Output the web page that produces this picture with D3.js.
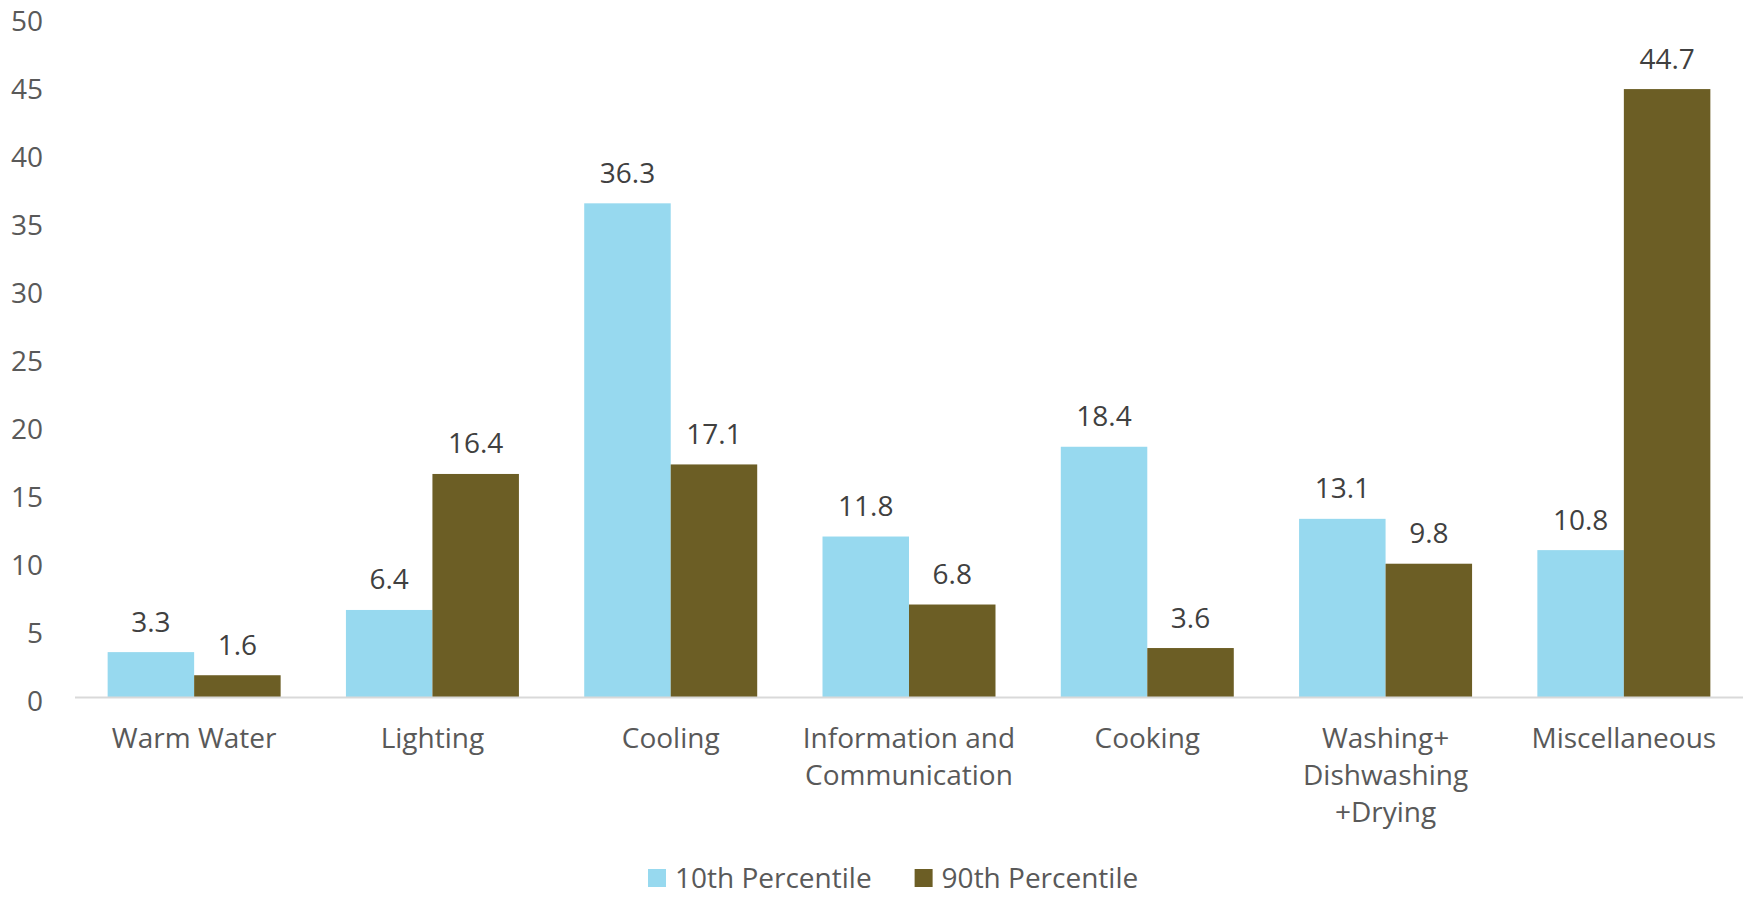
<!DOCTYPE html>
<html><head><meta charset="utf-8">
<script src="https://cdn.jsdelivr.net/npm/d3@7"></script>
<style>
html,body{margin:0;padding:0;background:#fff;}
svg{display:block;}
text{font-family:"Open Sans",sans-serif;}
</style></head>
<body><svg id="chart" width="1744" height="897"></svg>
<script>
const categories = [["Warm Water"],["Lighting"],["Cooling"],["Information and","Communication"],["Cooking"],["Washing+","Dishwashing","+Drying"],["Miscellaneous"]];
const seriesNames = ["10th Percentile","90th Percentile"];
const p10 = [3.3, 6.4, 36.3, 11.8, 18.4, 13.1, 10.8];
const p90 = [1.6, 16.4, 17.1, 6.8, 3.6, 9.8, 44.7];
const yTicks = [0,5,10,15,20,25,30,35,40,45,50];
const colors = ["#97D9EF","#6C5E25"];

const svg = d3.select("#chart");
const fs = 28;
const catKeys = categories.map(c => c.join(" "));
const x0 = d3.scaleBand().domain(catKeys).range([75,1743]).paddingInner(0).paddingOuter(0);
const bw = x0.bandwidth();
const gap = bw*0.274/2;
const x1 = d3.scaleBand().domain(seriesNames).range([gap, bw-gap]).padding(0);
const y = d3.scaleLinear().domain([0,50]).range([697,17]);

// y tick labels
svg.append("g").selectAll("text").data(yTicks).join("text")
  .attr("x",43).attr("y",d=>y(d)+14).attr("text-anchor","end")
  .attr("font-size",fs).attr("fill","#595959").text(d=>d);

// bars
const rows = catKeys.map((k,i)=>({key:k, vals:[p10[i],p90[i]]}));
const g = svg.append("g");
rows.forEach(r=>{
  r.vals.forEach((v,j)=>{
    const xs = x0(r.key)+x1(seriesNames[j]);
    g.append("rect").attr("x",xs).attr("y",y(v)).attr("width",x1.bandwidth()).attr("height",y(0)-y(v))
      .attr("fill",colors[j]);
    g.append("text").attr("x",xs+x1.bandwidth()/2).attr("y",y(v)-20.5).attr("text-anchor","middle")
      .attr("font-size",fs).attr("fill","#404040").text(v.toFixed(1));
  });
});

// baseline
svg.append("line").attr("x1",75).attr("x2",1743).attr("y1",y(0)+0.5).attr("y2",y(0)+0.5)
  .attr("stroke","#D9D9D9").attr("stroke-width",2);

// category labels
categories.forEach((lines,i)=>{
  const t = svg.append("text").attr("text-anchor","middle").attr("font-size",fs).attr("fill","#595959");
  lines.forEach((ln,k)=>{
    t.append("tspan").attr("x",x0(catKeys[i])+bw/2).attr("y",748+k*37).text(ln);
  });
});

// legend
const leg = svg.append("g");
let lx = 648;
seriesNames.forEach((s,j)=>{
  leg.append("rect").attr("x",lx).attr("y",869).attr("width",18).attr("height",18).attr("fill",colors[j]);
  const t = leg.append("text").attr("x",lx+27).attr("y",888).attr("font-size",fs).attr("fill","#595959").text(s);
  lx = lx+27+t.node().getComputedTextLength()+43;
});
</script></body></html>
